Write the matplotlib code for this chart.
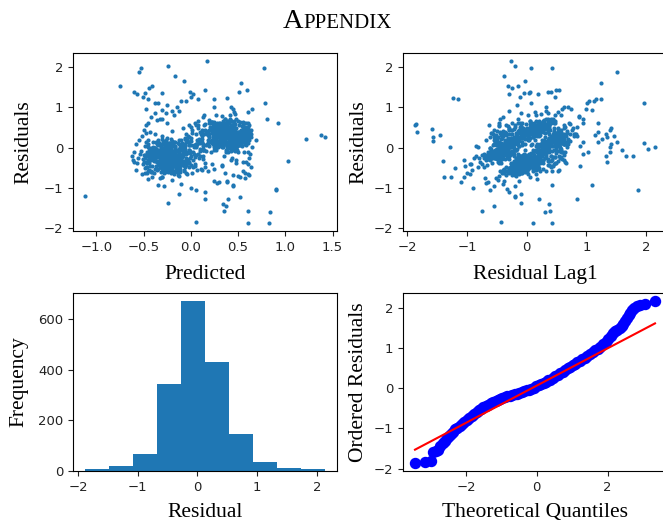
import matplotlib
matplotlib.use("Agg")
import matplotlib.pyplot as plt
import numpy as np

# residual sequence (in time order) and matching predicted values
residuals = [
    -0.08, -0.44, -0.31, 0.06, -0.19, 0.52, 0.21, 0.28, 0.63, 0.09,
    0.10, -1.87, 0.57, 0.36, 0.12, -0.18, -0.52, 0.07, -0.33, -0.26,
    -0.15, 0.13, -0.38, -0.61, 0.26, -0.02, 0.45, 0.41, 0.18, 0.39,
    0.43, -1.86, 0.58, 0.14, -0.24, 0.03, -0.41, -0.29, -0.64, -0.11,
    -0.20, -0.47, 0.12, -0.35, 0.31, 0.05, 0.58, 0.44, 0.72, 0.17,
    -0.43, -1.84, 0.38, 0.21, 0.49, -0.07, -0.30, -0.12, -0.57, -0.23,
    0.04, -0.36, -0.16, -0.51, 0.19, -0.27, 0.33, -0.05, 0.47, 0.65,
    0.30, -1.59, 0.46, 0.22, 0.08, 0.37, -0.44, -0.14, -0.22, -0.58,
    -0.09, -0.33, 0.15, -0.27, -0.48, 0.26, 0.51, 0.03, 0.81, 0.35,
    0.39, -1.57, 0.27, -0.06, -0.39, -0.21, 0.09, -0.45, -0.17, -0.70,
    -0.75, -1.57, 0.17, -0.28, 0.01, -0.37, -0.13, 0.41, 0.12, 0.55,
    0.29, 0.58, -0.04, -0.16, -0.49, 0.11, -0.32, -0.08, -0.62, -0.24,
    -0.55, -1.45, 0.31, 0.07, 0.47, 0.20, 0.62, -0.31, 0.06, -0.43,
    -0.18, -0.05, -0.53, -0.26, 0.15, 0.43, -0.09, 0.36, 0.54, 0.24,
    0.84, -1.28, 0.02, -0.40, -0.12, -0.66, -0.23, 0.14, -0.35, -0.48,
    -0.03, 0.33, 0.07, 0.49, 0.18, 0.29, 0.61, -0.11, -0.27, -0.15,
    -0.15, 1.52, 1.87, -1.05, -0.74, -0.19, -0.46, 0.05, -0.33, -0.09,
    -0.41, 0.25, 0.57, 0.12, 0.38, -0.06, 0.44, 0.19, 0.02, -0.29,
    -0.27, 2.15, 0.02, -0.52, -0.21, -0.36, 0.10, -0.14, -0.44, -0.02,
    -0.19, 2.03, -0.04, 0.39, 0.08, 0.53, 0.27, -0.07, 0.60, 0.31,
    0.07, 1.97, 0.11, -0.37, -0.08, -0.58, -0.25, 0.16, -0.41, -0.12,
    0.43, 1.97, 1.10, -0.93, -0.40, -0.09, 0.34, 0.05, 0.51, 0.23,
    -0.38, 1.78, -0.22, -0.47, 0.03, -0.31, -0.60, -0.17, -0.05, -0.34,
    -0.03, 1.66, -0.21, 0.46, 0.13, 0.29, 0.68, 0.02, 0.37, 0.55,
    -0.20, -1.23, 1.24, 1.60, -0.06, -0.42, -0.19, -0.55, 0.08, -0.30,
    0.35, 1.39, 0.01, 0.48, 0.17, -0.08, 0.32, 0.59, 0.11, 0.26,
    0.55, 1.42, 0.50, 0.09, -0.36, -0.02, -0.51, -0.23, -0.11, -0.45,
    0.70, 1.01, 1.12, 1.17, 1.20, 0.14, 0.49, 0.27, 0.04, 0.38,
    -0.10, -1.15, 1.20, 0.40, 0.22, -0.28, 0.06, -0.47, -0.16, -0.35,
    0.37, -1.40, -0.32, 0.02, -0.54, -0.20, -0.07, -0.38, -0.13, -0.61,
    -0.10, -1.38, -0.72, -0.25, -0.43, 0.11, 0.41, 0.08, 0.57, 0.29,
    0.20, -1.27, -0.72, -0.16, -0.39, 0.05, -0.29, -0.50, -0.09, -0.21,
    -0.20, -1.20, -0.50, -0.03, 0.10, 0.45, 0.19, 0.63, 0.31, 0.36,
    0.71, 0.62, 0.21, 0.31, 0.26, 0.19, -0.33, -1.03, -0.45, -0.18,
    -0.25, 1.47, 0.28, -0.31, 1.52, 0.15, 0.04, 1.35, -0.36, 0.12,
    0.41, 1.39, -0.12, -0.29, 1.33, 0.33, 0.47, 1.27, 0.22, -0.08,
    0.06, 1.39, 0.45, 0.19, 1.33, -0.21, -0.05, 1.35, 0.26, 0.53,
    0.50, 1.42, 0.08, 1.10, 0.94, -0.16, 1.05, 1.15, 0.32, 1.02,
    -0.11, 1.25, 1.20, 0.62, 1.00, 0.95, 0.14, 0.88, 0.76, 0.43,
    -0.92, -0.55, -0.95, -0.40, -0.90, -1.00, -0.62, -1.05, -0.30, -1.10,
    -0.85, -0.20, -0.95, -0.65, -0.85, 0.05, -0.72, -0.48, -0.80, -0.25,
    -0.68, 0.18, -0.78, -0.35, -0.58, -0.12, -0.82, 0.02, -0.66, -0.44,
    -0.20, -0.35, 0.55, -0.55, 0.20, -0.25, 0.45, -0.40, 0.75, 0.95,
    0.60, -0.10, 0.85, 0.30, -0.15, 0.70, 0.10, -0.30, 0.90, 0.05,
    0.65, 0.52, 0.88, 0.78, 0.48, 0.60, 0.95, 0.72, 0.58, 0.82,
    0.35, 0.12, 0.62, 0.55, 0.25, 0.05, 0.45, 0.50, 0.28, 0.38,
    -0.32, 0.08, -0.45, -0.57, -0.14, 0.21, -0.27, -0.38, -0.02, -0.61,
    -0.11, -0.22, 0.15, -0.48, -0.35, -0.06, -0.19, -0.63, -0.28, 0.02,
    -0.40, -0.15, -0.26, 0.12, -0.53, -0.09, -0.44, -0.31, 0.24, -0.18,
    -0.36, -0.02, -0.58, -0.24, -0.13, -0.47, 0.06, -0.29, -0.20, -0.68,
    -0.31, 0.17, -0.08, -0.40, -0.55, -0.26, -0.12, 0.03, -0.47, -0.34,
    -0.16, -0.50, -0.04, -0.22, 0.10, -0.43, -0.37, -0.10, -0.62, -0.19,
    0.24, 0.05, 0.41, 0.62, 0.33, -0.12, 0.17, 0.52, 0.46, 0.29,
    0.13, 0.58, 0.37, -0.05, 0.26, 0.44, 0.69, 0.18, 0.08, 0.35,
    0.49, 0.22, -0.16, 0.32, 0.54, 0.10, 0.40, 0.27, 0.64, 0.15,
    0.31, 0.01, 0.45, 0.38, 0.59, 0.20, -0.09, 0.34, 0.12, 0.51,
    0.10, -0.05, 0.40, 0.25, -0.20, 0.55, 0.15, 0.80, 0.35, 0.65,
    -0.12, -0.47, -0.39, 0.06, -0.25, 0.34, 0.56, -0.02, 0.21, 0.43,
    -0.31, 0.14, -0.08, -0.56, -0.22, -0.15, 0.61, 0.27, 0.09, 0.38,
    0.47, -0.37, 0.02, -0.19, -0.64, -0.28, 0.12, 0.55, 0.31, -0.03,
    -0.05, -0.45, -0.27, 0.19, -0.52, -0.11, 0.39, 0.16, 0.66, 0.28,
    0.07, 0.44, -0.23, -0.41, 0.09, -0.34, -0.18, 0.25, 0.58, 0.13,
    -0.48, -0.14, -0.33, 0.11, -0.59, 0.37, 0.02, 0.29, 0.49, 0.20,
    -0.26, 0.03, -0.44, -0.17, -0.36, 0.18, 0.42, 0.64, 0.10, 0.33,
    -0.58, -0.21, 0.08, -0.40, -0.07, 0.25, -0.10, 0.53, 0.38, 0.15,
    -0.29, -0.50, -0.13, 0.22, -0.35, -0.04, 0.46, 0.28, -0.01, 0.59,
    0.20, -0.09, -0.61, -0.27, -0.16, -0.42, 0.33, 0.06, 0.67, 0.41,
    -0.20, 0.10, -0.38, -0.52, -0.25, 0.14, 0.48, 0.23, -0.06, 0.36,
    -0.43, -0.08, -0.30, 0.15, -0.66, -0.18, 0.30, 0.52, 0.19, 0.04,
    -0.15, -0.39, 0.00, -0.24, -0.47, 0.60, 0.26, 0.11, 0.44, 0.35,
    -0.34, 0.12, -0.55, -0.21, -0.01, -0.37, 0.17, 0.40, 0.63, 0.08,
    0.06, -0.28, -0.12, -0.49, 0.21, -0.32, 0.54, 0.22, 0.31, 0.47,
    -0.23, -0.60, -0.04, -0.35, -0.14, 0.27, -0.08, 0.45, 0.61, 0.16,
    -0.42, -0.19, 0.17, -0.27, -0.53, -0.06, 0.39, 0.05, 0.24, 0.57,
    -0.11, -0.38, -0.62, -0.02, -0.30, 0.48, 0.13, 0.32, 0.70, 0.21,
    -0.26, 0.05, -0.46, -0.16, -0.36, -0.09, 0.25, 0.56, 0.02, 0.43,
    -0.57, -0.22, -0.33, 0.09, -0.44, 0.36, 0.18, -0.11, 0.51, 0.30,
    -0.07, -0.31, 0.20, -0.50, -0.18, -0.39, 0.42, 0.03, 0.28, 0.65,
    -0.36, -0.13, -0.58, -0.24, 0.04, 0.19, 0.53, 0.34, -0.03, 0.44,
    -0.45, -0.20, 0.13, -0.32, -0.09, -0.54, 0.27, 0.12, 0.58, 0.37,
    0.35, 0.62, 0.48, 0.80, 0.28, -0.30, -0.52, -0.75, -0.41, -0.63,
    0.55, 0.40, 0.72, 0.33, 0.90, -0.45, -0.35, -0.68, -0.88, -0.25,
    -0.12, 0.05, -0.40, 0.30, -0.25, 0.15, -0.55, 0.45, -0.05, 0.25,
    0.42, 0.68, 0.36, 0.85, 0.52, -0.58, -0.38, -0.82, -0.47, -0.70,
    -0.19, -0.52, -0.07, 0.14, -0.42, -0.26, -0.61, -0.02, -0.33, 0.07,
    -0.24, 0.19, -0.45, -0.11, -0.36, -0.29, 0.01, -0.56, -0.16, -0.40,
    0.32, -0.03, 0.45, 0.26, 0.62, 0.10, 0.38, 0.55, 0.19, 0.49,
    0.36, 0.68, 0.15, 0.43, 0.27, -0.10, 0.52, 0.33, 0.08, 0.60,
    -0.27, 0.04, -0.43, 0.22, 0.48, 0.07, -0.35, -0.12, 0.39, 0.15,
    -0.06, -0.51, 0.31, 0.58, 0.12, -0.22, -0.40, 0.09, 0.44, 0.26,
    -0.33, -0.15, -0.58, 0.36, -0.02, -0.29, 0.13, 0.51, 0.20, 0.04,
    -0.45, -0.10, 0.27, 0.63, -0.19, -0.37, -0.01, 0.35, 0.11, 0.47,
    -0.24, 0.18, -0.50, 0.42, 0.16, 0.55, -0.09, -0.42, 0.29, -0.06,
    -0.28, -0.55, 0.08, 0.38, 0.24, -0.14, 0.06, -0.47, 0.57, 0.32,
    -0.17, -0.36, 0.11, 0.49, 0.01, -0.61, -0.23, 0.19, 0.44, 0.28,
    -0.39, -0.03, 0.34, 0.14, -0.26, -0.48, -0.11, 0.60, 0.23, 0.40,
    -0.21, -0.44, 0.02, 0.30, 0.53, 0.17, -0.32, -0.57, 0.06, 0.37,
    0.09, -0.30, 0.45, 0.21, 0.66, -0.38, -0.16, -0.04, 0.32, 0.13,
    -0.52, -0.25, -0.08, 0.25, 0.41, -0.34, 0.03, 0.18, 0.50, -0.03,
    -0.19, -0.42, 0.36, 0.09, -0.29, 0.11, -0.53, 0.28, 0.47, 0.19,
    -0.31, -0.02, -0.46, 0.54, 0.33, 0.07, -0.13, -0.37, 0.40, 0.22,
    -0.58, -0.20, 0.14, 0.42, 0.29, 0.00, -0.41, -0.24, 0.61, 0.31,
    -0.07, -0.35, -0.15, 0.37, 0.05, -0.49, -0.27, 0.24, 0.52, 0.12,
    -0.40, 0.06, 0.48, 0.26, -0.18, -0.62, -0.30, 0.16, 0.35, 0.57,
    -0.23, -0.47, 0.14, 0.20, 0.44, 0.03, -0.36, -0.10, 0.29, 0.49,
    -0.14, -0.54, 0.32, 0.10, 0.56, -0.26, 0.01, -0.44, 0.39, 0.18,
    -0.37, -0.11, -0.29, 0.46, 0.23, -0.05, -0.56, 0.33, 0.09, 0.41,
    -0.48, -0.21, 0.27, 0.52, -0.33, -0.08, -0.41, 0.06, 0.38, 0.25,
    -0.31, 0.22, -0.14, 0.41, -0.45, 0.08, 0.33, -0.22, 0.16, -0.06,
    0.49, -0.37, 0.02, 0.27, -0.53, 0.12, -0.18, 0.36, -0.27, 0.19,
    -0.18, -0.34, -0.05, -0.26, -0.41, -0.12, -0.30, -0.21, -0.47, -0.09,
    -0.28, -0.15, -0.38, -0.02, -0.24, -0.51, -0.19, -0.33, -0.07, -0.43,
    0.31, 0.16, 0.42, 0.25, 0.05, 0.37, 0.52, 0.21, 0.34, 0.11,
    0.27, 0.46, 0.13, 0.35, 0.58, 0.19, 0.03, 0.40, 0.24, 0.50,
]

predicted = [
    -0.25, -0.18, -0.31, -0.08, -0.22, 0.41, 0.35, 0.48, 0.22, 0.52,
    0.05, 0.83, 0.44, 0.31, 0.58, -0.28, -0.15, -0.35, -0.05, -0.41,
    -0.12, -0.27, -0.46, -0.19, 0.28, 0.45, 0.15, 0.39, 0.62, 0.33,
    0.42, 0.61, 0.55, 0.12, -0.33, -0.22, -0.09, -0.51, -0.28, -0.17,
    -0.38, -0.02, -0.24, -0.13, 0.18, 0.26, 0.47, 0.57, 0.36, 0.21,
    -0.20, 0.06, 0.51, 0.09, 0.29, 0.46, -0.42, -0.31, -0.14, -0.26,
    -0.19, -0.36, 0.03, -0.48, -0.10, -0.29, 0.14, 0.37, 0.55, 0.43,
    0.34, 0.84, 0.39, 0.60, -0.06, 0.23, -0.23, -0.07, -0.34, -0.15,
    -0.53, -0.11, -0.20, -0.39, 0.02, 0.50, 0.27, 0.13, 0.41, 0.49,
    0.63, 0.61, 0.30, -0.15, -0.27, -0.45, 0.07, -0.21, -0.30, -0.12,
    -0.33, 0.35, 0.20, -0.04, -0.17, -0.57, -0.25, 0.44, 0.53, 0.08,
    0.24, 0.46, 0.38, -0.30, -0.14, -0.09, -0.37, -0.23, 0.01, -0.44,
    -0.27, 0.37, 0.54, 0.16, 0.33, 0.40, 0.19, -0.16, -0.20, -0.35,
    -0.47, -0.12, -0.26, -0.01, 0.52, 0.28, 0.10, 0.35, 0.45, 0.59,
    0.47, 0.39, -0.10, -0.32, -0.24, -0.18, 0.04, -0.40, -0.50, -0.28,
    -0.22, 0.11, 0.25, 0.21, 0.43, 0.56, 0.04, 0.50, -0.13, -0.34,
    0.08, -0.75, -0.55, 0.90, -0.30, -0.16, -0.43, -0.06, -0.31, -0.20,
    -0.26, 0.32, 0.14, 0.61, 0.37, 0.49, 0.27, 0.18, 0.34, -0.18,
    -0.11, 0.17, -0.23, -0.14, -0.28, -0.47, -0.36, -0.19, 0.00, -0.08,
    -0.39, -0.24, -0.21, 0.47, 0.23, 0.36, 0.64, 0.13, 0.30, 0.42,
    -0.02, -0.53, 0.26, -0.30, -0.12, -0.25, -0.49, -0.04, -0.22, -0.37,
    0.55, 0.77, 0.78, 0.45, -0.18, -0.33, 0.29, 0.38, 0.20, 0.54,
    -0.29, -0.17, -0.45, -0.13, -0.27, -0.05, -0.32, -0.41, -0.16, -0.06,
    0.10, -0.07, 0.00, 0.24, 0.58, 0.31, 0.19, 0.45, 0.40, 0.27,
    -0.13, 0.52, 0.38, 0.53, -0.35, -0.21, -0.10, -0.44, -0.28, -0.20,
    0.44, 0.51, 0.05, 0.35, 0.50, 0.16, 0.62, 0.28, 0.22, 0.41,
    0.30, 0.15, 0.39, 0.57, -0.24, -0.38, -0.14, -0.27, -0.02, -0.31,
    0.48, 0.43, -0.38, -0.10, -0.45, 0.36, 0.21, 0.53, 0.46, 0.12,
    -0.36, -0.12, 0.25, 0.29, 0.59, -0.19, -0.26, -0.46, -0.33, -0.11,
    0.18, 0.34, -0.08, -0.22, -0.15, -0.39, -0.17, -0.03, -0.29, -0.42,
    -0.05, -0.24, -0.31, -0.25, -0.10, -0.23, 0.42, 0.26, 0.37, 0.61,
    0.31, 0.15, -0.41, -0.35, -0.02, -0.20, -0.27, -0.13, -0.38, -0.30,
    -0.15, -1.12, -0.23, -0.06, 0.13, 0.32, 0.46, 0.24, 0.39, 0.57,
    0.81, 0.92, 1.22, 1.38, 1.42, 0.69, 1.03, 0.90, -0.21, -0.37,
    -0.16, -0.44, 0.12, -0.24, -0.41, 0.33, -0.07, -0.48, -0.14, 0.53,
    0.28, -0.60, -0.32, -0.19, -0.57, 0.17, 0.60, -0.51, 0.49, -0.25,
    0.00, -0.01, 0.36, 0.07, 0.02, -0.33, -0.43, -0.31, 0.26, 0.42,
    0.34, 0.59, 0.29, -0.35, -0.30, -0.05, -0.25, -0.05, 0.58, -0.15,
    -0.27, 0.00, 0.08, 0.20, 0.25, 0.45, 0.39, 0.46, 0.13, 0.64,
    -0.35, 0.12, -0.28, 0.22, -0.10, 0.00, 0.57, 0.05, 0.48, 0.15,
    0.30, 0.35, 0.45, 0.61, 0.38, -0.09, 0.52, 0.64, -0.20, 0.44,
    0.62, -0.04, -0.45, 0.58, 0.55, 0.60, 0.25, 0.65, -0.52, 0.33,
    -0.62, -0.60, -0.47, -0.58, -0.55, -0.56, -0.50, -0.51, -0.42, -0.47,
    -0.45, -0.60, -0.38, -0.52, -0.54, -0.30, -0.58, -0.61, -0.20, -0.49,
    0.50, 0.42, 0.60, 0.33, 0.22, 0.56, 0.65, 0.41, 0.15, 0.27,
    0.64, 0.10, 0.61, 0.45, 0.55, 0.38, 0.12, 0.47, 0.53, 0.31,
    -0.27, -0.35, -0.14, -0.42, -0.20, -0.06, -0.31, -0.24, -0.44, -0.11,
    -0.18, -0.23, -0.37, -0.12, -0.33, -0.02, -0.16, -0.48, -0.29, -0.26,
    -0.09, -0.40, -0.21, -0.19, -0.35, -0.30, -0.07, -0.13, -0.25, -0.50,
    -0.32, -0.10, -0.45, -0.22, -0.04, -0.28, -0.26, -0.39, -0.17, -0.14,
    -0.21, -0.29, -0.01, -0.11, -0.36, -0.43, -0.08, -0.27, -0.47, -0.18,
    -0.38, -0.16, -0.24, -0.31, -0.12, -0.20, -0.34, -0.23, -0.05, -0.19,
    0.36, 0.49, 0.28, 0.58, 0.43, 0.21, 0.51, 0.31, 0.39, 0.45,
    0.54, 0.37, 0.46, 0.25, 0.32, 0.60, 0.41, 0.49, 0.17, 0.34,
    0.47, 0.40, 0.63, 0.30, 0.44, 0.52, 0.57, 0.19, 0.55, 0.26,
    0.42, 0.29, 0.53, 0.46, 0.35, 0.24, 0.43, 0.62, 0.33, 0.38,
    0.05, -0.02, 0.10, 0.00, 0.13, 0.06, 0.09, 0.14, -0.05, 0.08,
    -0.21, -0.33, -0.44, -0.09, -0.26, 0.38, 0.51, 0.27, 0.44, 0.19,
    -0.15, -0.02, -0.38, -0.29, -0.18, -0.43, 0.31, 0.45, 0.57, 0.24,
    0.36, -0.27, -0.11, -0.35, -0.46, -0.23, 0.49, 0.30, 0.39, 0.13,
    -0.30, -0.41, -0.14, -0.05, -0.25, -0.19, 0.22, 0.55, 0.34, 0.47,
    0.58, 0.41, -0.37, -0.13, -0.22, -0.31, -0.48, 0.27, 0.36, 0.52,
    -0.12, -0.26, -0.20, -0.34, -0.07, 0.16, 0.33, 0.60, 0.43, 0.25,
    -0.40, -0.18, -0.28, -0.36, -0.10, -0.45, 0.46, 0.21, 0.30, 0.55,
    -0.24, -0.09, -0.32, -0.17, -0.39, 0.42, 0.37, 0.26, 0.50, 0.35,
    -0.16, -0.30, -0.43, -0.21, -0.06, -0.27, 0.56, 0.23, 0.41, 0.33,
    0.44, -0.35, -0.15, -0.42, -0.23, -0.12, 0.29, 0.52, 0.38, 0.45,
    -0.08, -0.45, -0.26, -0.31, -0.14, 0.20, 0.48, 0.35, 0.27, 0.61,
    -0.33, -0.19, -0.27, -0.47, -0.04, -0.22, 0.39, 0.57, 0.32, 0.49,
    -0.29, -0.13, -0.38, -0.17, -0.32, 0.34, 0.26, 0.46, 0.40, 0.58,
    -0.22, -0.36, -0.07, -0.25, -0.42, -0.15, 0.51, 0.31, 0.22, 0.43,
    0.03, -0.10, -0.44, -0.20, -0.30, -0.37, 0.25, 0.42, 0.53, 0.35,
    -0.37, -0.24, -0.12, -0.28, -0.19, 0.59, 0.47, 0.37, 0.28, 0.50,
    -0.05, -0.31, -0.20, -0.41, -0.11, -0.34, 0.32, 0.19, 0.46, 0.62,
    -0.26, -0.16, -0.39, -0.08, -0.33, 0.27, 0.43, 0.55, 0.36, 0.40,
    -0.43, -0.21, -0.14, -0.29, -0.02, -0.40, 0.45, 0.33, 0.24, 0.57,
    -0.18, -0.47, -0.30, -0.23, -0.13, 0.48, 0.22, 0.39, 0.61, 0.29,
    -0.11, -0.28, -0.35, -0.16, -0.45, -0.06, 0.37, 0.29, 0.50, 0.41,
    -0.34, -0.12, -0.25, -0.38, -0.21, 0.31, 0.54, 0.44, 0.26, 0.47,
    -0.25, -0.40, -0.17, -0.03, -0.32, -0.22, 0.23, 0.58, 0.35, 0.42,
    -0.38, -0.25, -0.08, -0.18, -0.30, 0.42, 0.25, 0.57, 0.60, 0.36,
    -0.02, -0.43, -0.33, 0.05, -0.12, 0.33, 0.55, 0.45, 0.28, 0.62,
    0.02, 0.06, 0.04, -0.03, 0.09, 0.11, 0.07, 0.01, 0.13, -0.06,
    -0.20, -0.36, -0.47, -0.26, 0.00, 0.18, 0.48, 0.38, 0.15, 0.50,
    -0.14, -0.22, -0.28, -0.35, -0.18, -0.05, -0.41, -0.25, -0.31, -0.09,
    -0.20, -0.12, -0.37, -0.23, -0.29, -0.20, -0.45, -0.15, -0.34, -0.27,
    0.40, 0.48, 0.35, 0.28, 0.46, 0.37, 0.53, 0.44, 0.22, 0.31,
    0.29, 0.41, 0.52, 0.46, 0.30, 0.56, 0.37, 0.23, 0.48, 0.34,
    -0.19, -0.32, -0.08, 0.35, 0.27, 0.51, -0.24, -0.40, 0.44, 0.22,
    -0.29, -0.15, 0.47, 0.38, 0.30, -0.11, -0.27, -0.21, 0.56, 0.41,
    -0.36, -0.23, -0.13, 0.25, 0.45, -0.43, -0.05, 0.33, 0.59, 0.39,
    -0.22, -0.34, 0.42, 0.52, -0.17, -0.30, -0.38, 0.28, 0.46, 0.36,
    -0.09, -0.26, -0.31, 0.40, 0.33, 0.23, -0.44, -0.16, 0.50, 0.43,
    -0.28, -0.12, 0.37, 0.26, 0.55, -0.35, -0.02, -0.25, 0.32, 0.48,
    -0.41, -0.20, -0.14, 0.31, 0.44, -0.27, -0.33, 0.58, 0.21, 0.37,
    -0.10, -0.37, 0.27, 0.49, -0.23, -0.06, -0.30, 0.40, 0.35, 0.53,
    -0.32, -0.18, -0.40, 0.45, 0.38, 0.29, -0.14, -0.24, 0.41, 0.57,
    -0.26, -0.45, 0.34, 0.60, 0.46, -0.19, -0.29, -0.08, 0.24, 0.36,
    -0.21, -0.13, -0.35, 0.53, 0.30, -0.39, -0.17, 0.43, 0.27, 0.48,
    -0.27, -0.08, 0.22, 0.39, -0.33, -0.22, -0.12, 0.47, 0.35, 0.55,
    -0.15, -0.30, -0.24, 0.29, 0.42, 0.34, -0.36, -0.05, 0.51, 0.40,
    -0.20, -0.42, 0.45, 0.23, 0.56, -0.28, -0.11, -0.33, 0.37, 0.30,
    -0.31, -0.19, -0.37, 0.50, 0.32, -0.16, -0.25, 0.36, 0.44, 0.26,
    -0.05, -0.23, 0.31, 0.43, -0.40, -0.21, -0.14, 0.49, 0.28, 0.38,
    -0.34, -0.26, -0.18, 0.41, 0.24, 0.54, -0.29, -0.46, 0.33, 0.45,
    -0.12, -0.38, 0.38, 0.46, 0.31, -0.24, -0.32, -0.18, 0.27, 0.52,
    -0.23, -0.07, -0.39, 0.36, 0.57, -0.31, -0.20, 0.25, 0.40, 0.34,
    -0.16, -0.33, 0.49, 0.32, -0.27, -0.43, -0.09, 0.42, 0.30, 0.47,
    0.02, 0.12, -0.01, 0.16, 0.04, 0.07, 0.19, 0.10, 0.00, 0.14,
    0.08, 0.15, 0.03, -0.02, 0.11, 0.18, 0.06, 0.01, 0.13, -0.04,
    -0.18, -0.25, -0.21, -0.30, -0.14, -0.27, -0.20, -0.35, -0.23, -0.16,
    -0.24, -0.32, -0.17, -0.22, -0.38, -0.26, -0.11, -0.19, -0.29, -0.21,
    0.38, 0.45, 0.33, 0.50, 0.42, 0.29, 0.40, 0.36, 0.48, 0.31,
    0.44, 0.35, 0.52, 0.41, 0.37, 0.27, 0.46, 0.55, 0.39, 0.32,
]

# histogram of all residuals (bin edges and counts)
hist_edges = [-1.885, -1.483, -1.080, -0.678, -0.276, 0.126, 0.529, 0.931, 1.333, 1.736, 2.138]
hist_counts = [9, 21, 67, 346, 671, 431, 146, 34, 13, 9]

# probability plot: theoretical quantiles vs ordered residuals
qq_theoretical = [
    -3.44, -3.15, -3.00, -2.92, -2.85, -2.78, -2.72, -2.66, -2.60, -2.54,
    -2.48, -2.42, -2.36, -2.30, -2.24, -2.18, -2.12, -2.05, -1.98, -1.91,
    -1.84, -1.77, -1.70, -1.63, -1.57, -1.51, -1.44, -1.37, -1.30, -1.23,
    -1.16, -1.10, -1.04, -0.97, -0.90, -0.83, -0.76, -0.69, -0.62, -0.56,
    -0.49, -0.42, -0.35, -0.28, -0.21, -0.15, -0.08, -0.01, 0.06, 0.13,
    0.20, 0.27, 0.33, 0.38, 0.45, 0.52, 0.59, 0.66, 0.73, 0.80,
    0.87, 0.94, 1.01, 1.08, 1.15, 1.22, 1.29, 1.36, 1.43, 1.51,
    1.58, 1.65, 1.72, 1.80, 1.88, 1.95, 2.02, 2.09, 2.16, 2.22,
    2.28, 2.34, 2.40, 2.45, 2.50, 2.55, 2.60, 2.64, 2.70, 2.76,
    2.82, 2.92, 3.06, 3.34,
]
qq_ordered = [
    -1.86, -1.84, -1.81, -1.59, -1.57, -1.54, -1.45, -1.37, -1.31, -1.25,
    -1.18, -1.13, -1.08, -1.02, -0.98, -0.93, -0.88, -0.83, -0.78, -0.73,
    -0.68, -0.63, -0.58, -0.54, -0.51, -0.47, -0.44, -0.41, -0.37, -0.35,
    -0.32, -0.29, -0.27, -0.25, -0.22, -0.20, -0.18, -0.16, -0.14, -0.13,
    -0.11, -0.09, -0.07, -0.05, -0.03, -0.01, 0.02, 0.05, 0.08, 0.11,
    0.14, 0.17, 0.20, 0.22, 0.26, 0.30, 0.34, 0.38, 0.42, 0.46,
    0.50, 0.54, 0.58, 0.62, 0.66, 0.69, 0.73, 0.77, 0.81, 0.86,
    0.90, 0.95, 0.99, 1.04, 1.10, 1.17, 1.24, 1.31, 1.39, 1.43,
    1.47, 1.51, 1.56, 1.60, 1.68, 1.76, 1.83, 1.89, 1.95, 2.01,
    2.05, 2.07, 2.10, 2.18,
]
qq_slope = 0.465
qq_intercept = 0.07

assert len(residuals) == len(predicted)
assert len(qq_theoretical) == len(qq_ordered)

res = np.array(residuals)
pred = np.array(predicted)

serif = 'Liberation Serif'
label_kw = dict(fontsize=15.5, family=serif)
blue = '#1f77b4'

plt.rcParams['xtick.labelsize'] = 9.5
plt.rcParams['ytick.labelsize'] = 9.5
plt.rcParams['xtick.color'] = '#222222'
plt.rcParams['ytick.color'] = '#222222'

fig = plt.figure(figsize=(6.63, 5.22), dpi=100)

W, H = 663.0, 522.0
ax_w, ax_h = 264 / W, 178 / H
ax1 = fig.add_axes([73 / W, 1 - 231 / H, ax_w, ax_h])
ax2 = fig.add_axes([403 / W, 1 - 231 / H, ax_w, ax_h])
ax3 = fig.add_axes([73 / W, 1 - 471 / H, ax_w, ax_h])
ax4 = fig.add_axes([403 / W, 1 - 471 / H, ax_w, ax_h])

# residuals vs predicted
ax1.scatter(pred, res, s=9, color=blue, linewidths=0)
ax1.set_xlabel('Predicted', labelpad=8, **label_kw)
ax1.set_ylabel('Residuals', labelpad=7, **label_kw)
ax1.set_xticks([-1.0, -0.5, 0.0, 0.5, 1.0, 1.5])

# lag-1 plot
ax2.scatter(res[:-1], res[1:], s=9, color=blue, linewidths=0)
ax2.set_xlabel('Residual Lag1', labelpad=8, **label_kw)
ax2.set_ylabel('Residuals', **label_kw)
ax2.set_xticks([-2, -1, 0, 1, 2])

for ax in (ax1, ax2):
    ax.set_yticks([-2, -1, 0, 1, 2])

# histogram
centers = [(a + b) / 2 for a, b in zip(hist_edges[:-1], hist_edges[1:])]
ax3.hist(centers, bins=hist_edges, weights=hist_counts, color=blue)
ax3.set_xlabel('Residual', labelpad=7, **label_kw)
ax3.set_ylabel('Frequency', labelpad=7, **label_kw)
ax3.set_xticks([-2, -1, 0, 1, 2])
ax3.set_yticks([0, 200, 400, 600])

# probability plot
qx = np.array(qq_theoretical)
ax4.plot(qx, qq_ordered, 'o', color='#0000ff', markersize=7.2)
ax4.plot(qx[[0, -1]], qq_intercept + qq_slope * qx[[0, -1]], color='#ff0000', linewidth=1.5)
ax4.set_xlabel('Theoretical Quantiles', labelpad=7, **label_kw)
ax4.set_ylabel('Ordered Residuals', **label_kw)
ax4.set_xticks([-2, 0, 2])
ax4.set_yticks([-2, -1, 0, 1, 2])

fig.align_ylabels([ax1, ax3])

# small-caps style heading
ty = 1 - 28 / H
t1 = fig.text(283 / W, ty, 'A', fontsize=20.5, family=serif, va='baseline')
renderer = fig.canvas.get_renderer()
x_end = t1.get_window_extent(renderer).x1 / fig.bbox.width
fig.text(x_end, ty, 'PPENDIX', fontsize=15, family=serif, va='baseline')

fig.savefig('out.png', dpi=100)
